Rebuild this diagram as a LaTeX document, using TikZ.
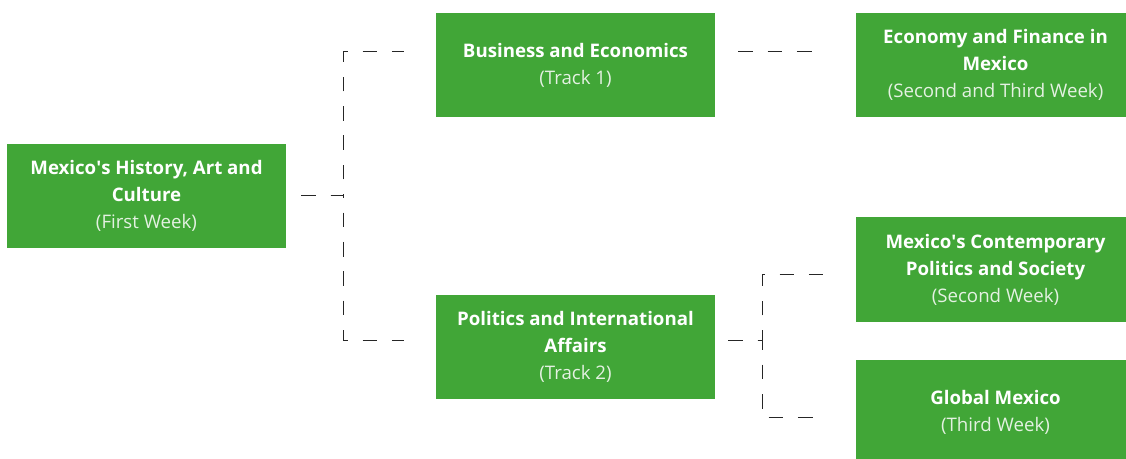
\documentclass[tikz,border=0pt]{standalone}
\usepackage{fontspec}
\setmainfont{Open Sans}
\usepackage{xcolor}
\usepackage{tikz}
\usetikzlibrary{positioning}
\definecolor{trackgreen}{HTML}{41A637}
\definecolor{subtext}{HTML}{E4F1E2}
\newcommand{\weektext}[1]{{\mdseries\color{subtext}#1}}

\begin{document}
\begin{tikzpicture}[x=0.75pt,y=-0.75pt]
        \tikzstyle{track}=[rectangle,fill=trackgreen,text=white,
            minimum width=209.25pt,minimum height=78pt,inner sep=0pt,
            align=center,font=\fontsize{14}{20.3}\selectfont\bfseries]
        \tikzstyle{link}=[draw=black!85,line width=0.75pt,
            dash pattern=on 11pt off 11pt]
            \clip (0,0) rectangle (1126,459);
            \fill[white] (0,0) rectangle (1126,459);

            % first week and the two tracks
            \node[track] (hist) at (146.5,196)
                {Mexico\textquotesingle s History, Art and\\Culture\\\weektext{(First Week)}};
            \node[track] (bus) at (575.5,65)
                {Business and Economics\\\weektext{(Track 1)}};
            \node[track] (pol) at (575.5,347)
                {Politics and International\\Affairs\\\weektext{(Track 2)}};

            % second and third week
            \node[track] (econ) at (995.5,65)
                {Economy and Finance in\\Mexico\\\weektext{(Second and Third Week)}};
            \node[track] (cont) at (995.5,269.5)
                {Mexico\textquotesingle s Contemporary\\Politics and Society\\\weektext{(Second Week)}};
            \node[track] (glob) at (995.5,412)
                {Global Mexico\\\weektext{(Third Week)}};

            \draw[link, shorten <=11.25pt, shorten >=24pt]
            (hist.east) -- ++(57,0) |- ([yshift=9.75pt]bus.west);
            \draw[link, shorten <=11.25pt, shorten >=24pt]
            (hist.east) -- ++(57,0) |- ([yshift=5.25pt]pol.west);

            \draw[link, shorten <=17.25pt, shorten >=24.75pt]
            ([yshift=9.75pt]bus.east) -- ([yshift=9.75pt]econ.west);

            \draw[link, shorten <=9.75pt, shorten >=24.75pt]
            ([yshift=5.25pt]pol.east) -- ++(47,0) |- ([yshift=-3.4pt]cont.west);
            \draw[link, shorten <=9.75pt, shorten >=24.75pt]
            ([yshift=5.25pt]pol.east) -- ++(47,0) |- ([yshift=-3.75pt]glob.west);
        \end{tikzpicture}
\end{document}
